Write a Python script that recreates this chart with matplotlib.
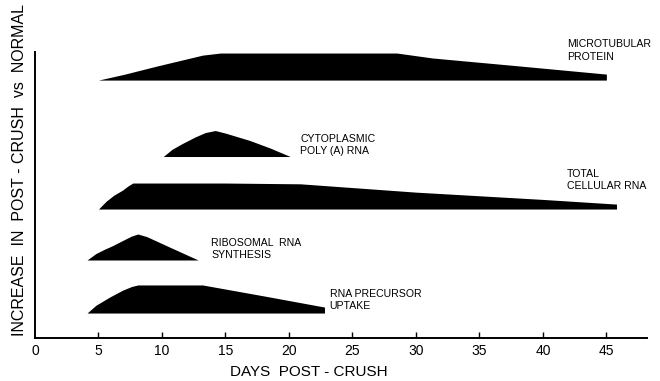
import matplotlib
matplotlib.use("Agg")
import matplotlib.pyplot as plt
import numpy as np

plt.rcParams['font.family'] = ['Liberation Sans', 'DejaVu Sans']

# each band: days along the x axis and relative height above its lane
micro_days = [5, 7, 9.6, 12, 13.2, 14.6, 20, 28.5, 31.3, 38, 45, 45]
micro_h = [0, 0.22, 0.54, 0.82, 0.96, 1.04, 1.04, 1.04, 0.85, 0.55, 0.23, 0]

cyto_days = [10.1, 10.8, 11.6, 12.6, 13.4, 14.2, 15, 16.9, 18.5, 20.1]
cyto_h = [0, 0.28, 0.5, 0.75, 0.92, 1.0, 0.9, 0.62, 0.33, 0]

total_days = [5.0, 5.6, 6.2, 6.9, 7.3, 7.7, 10, 15, 20.9, 30, 40, 45.8, 45.8]
total_h = [0, 0.3, 0.53, 0.73, 0.88, 1.0, 1.0, 1.0, 0.97, 0.65, 0.37, 0.19, 0]

ribo_days = [4.1, 4.8, 5.5, 6.1, 6.9, 7.6, 8.1, 8.8, 10.5, 12.85]
ribo_h = [0, 0.25, 0.42, 0.55, 0.75, 0.92, 1.0, 0.9, 0.52, 0]

prec_days = [4.1, 4.8, 5.9, 6.9, 7.6, 8.1, 10, 13.2, 18, 22.8, 22.8]
prec_h = [0, 0.3, 0.62, 0.88, 1.02, 1.08, 1.08, 1.08, 0.66, 0.23, 0]

lanes = [9.92, 6.98, 4.96, 3.0, 0.96]
band_days = [micro_days, cyto_days, total_days, ribo_days, prec_days]
band_heights = [micro_h, cyto_h, total_h, ribo_h, prec_h]

labels = ["MICROTUBULAR\nPROTEIN", "CYTOPLASMIC\nPOLY (A) RNA",
          "TOTAL\nCELLULAR RNA", "RIBOSOMAL  RNA\nSYNTHESIS",
          "RNA PRECURSOR\nUPTAKE"]
label_x = [41.9, 20.9, 41.9, 13.9, 23.2]
label_y = [11.06, 7.42, 6.08, 3.42, 1.46]

xticks = [5, 10, 15, 20, 25, 30, 35, 40, 45]

fig = plt.figure(figsize=(6.6, 3.81), dpi=100)
ax = fig.add_axes([35 / 660, 43 / 381, 612 / 660, 286 / 381])

for lane, d, h in zip(lanes, band_days, band_heights):
    d = np.array(d)
    h = np.array(h)
    ax.fill_between(d, lane, lane + h, color='black', linewidth=0)

for txt, x, y in zip(labels, label_x, label_y):
    ax.text(x, y, txt, fontsize=7.6, ha='left', va='center', linespacing=1.3)

ax.set_xlim(0, 48.2)
ax.set_ylim(0, 11)
ax.set_yticks([])
ax.set_xticks([0] + xticks)
ax.set_xticklabels(['0'] + [str(t) for t in xticks], fontsize=10)
ax.tick_params(axis='x', direction='in', length=4, width=1, pad=4)
ax.xaxis.get_major_ticks()[0].tick1line.set_visible(False)

for s in ['top', 'right']:
    ax.spines[s].set_visible(False)
ax.spines['left'].set_linewidth(1.4)
ax.spines['bottom'].set_linewidth(1.4)

ax.text(21.6, -1.31, "DAYS  POST - CRUSH", fontsize=11, ha='center', va='center')
ax.text(-1.2, 6.45, "INCREASE  IN  POST - CRUSH  vs  NORMAL", fontsize=11.5,
        rotation=90, ha='center', va='center')

fig.savefig("out.png", dpi=100)
